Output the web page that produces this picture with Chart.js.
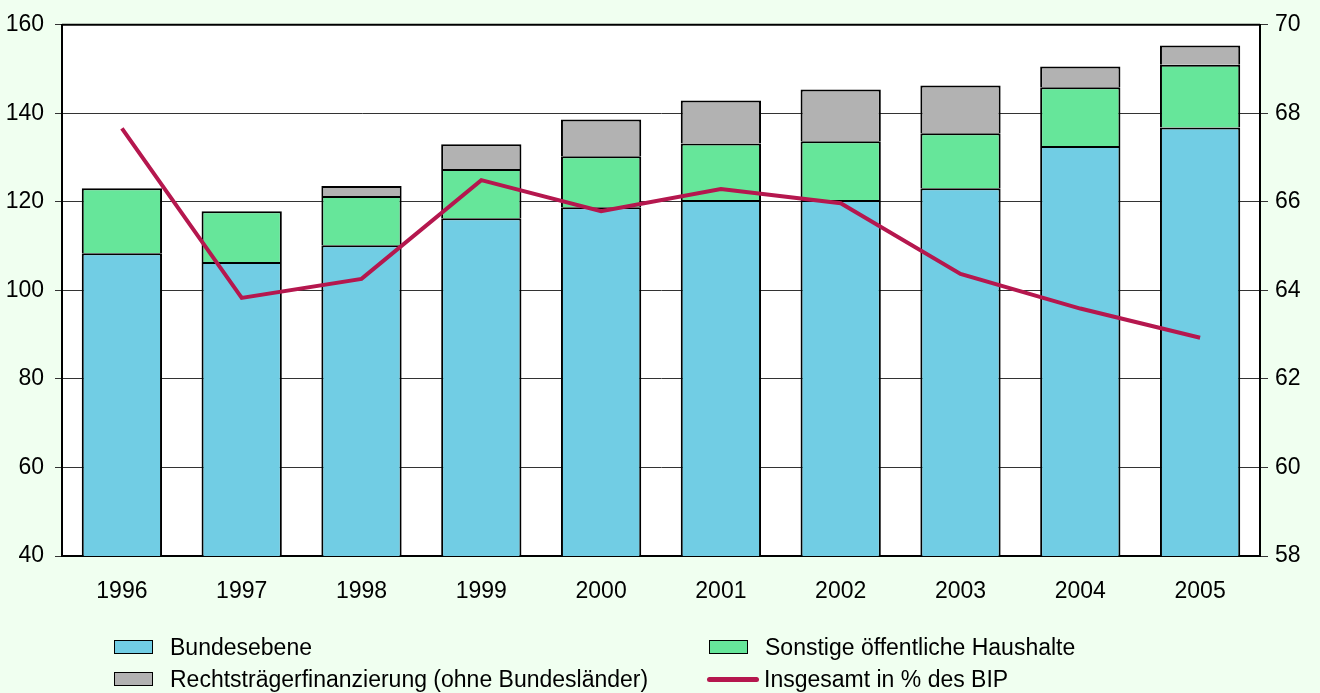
<!DOCTYPE html>
<html>
<head>
<meta charset="utf-8">
<script src="https://cdn.jsdelivr.net/npm/chart.js@4"></script>
<style>
    body { margin: 0; background: #f0fff0; font-family: "Liberation Sans", Arial, sans-serif; }
    #wrap { position: relative; width: 1320px; height: 693px; }
    #legend { position: absolute; left: 114px; top: 634px; display: grid; grid-template-columns: 595px 420px; row-gap: 6px; }
    .item { display: flex; align-items: center; font-size: 23px; color: #000; height: 26px; }
    .box { width: 37px; height: 12px; border: 1.5px solid #000; margin-right: 17px; }
    .line { width: 52px; height: 5px; border-radius: 3px; margin-right: 5px; margin-left: -2px; }
</style>
</head>
<body>
<div id="wrap">
    <canvas id="chart" width="1320" height="693"></canvas>
    <div id="legend"></div>
</div>
<script>
const years = ['1996', '1997', '1998', '1999', '2000', '2001', '2002', '2003', '2004', '2005'];
const bundesebene = [108.4, 106.4, 110.2, 116.3, 118.8, 120.4, 120.4, 123.1, 132.6, 136.8];
const sonstige = [14.7, 11.5, 11.1, 11.1, 11.5, 12.8, 13.3, 12.4, 13.3, 14.2];
const rechtstraeger = [0, 0, 2.3, 5.6, 8.3, 9.7, 11.7, 10.8, 4.7, 4.3];
const bipPercent = [67.66, 63.83, 64.26, 66.49, 65.79, 66.29, 65.97, 64.37, 63.59, 62.93];
const leftTicks = [40, 60, 80, 100, 120, 140, 160];
const rightTicks = [58, 60, 62, 64, 66, 68, 70];

const font = { family: '"Liberation Sans", Arial, sans-serif', size: 23 };

// frame around plot area (top line drawn black like the axes)
const framePlugin = {
    id: 'frame',
    afterDraw(chart) {
        const { ctx, chartArea: a } = chart;
        ctx.save();
        ctx.strokeStyle = '#000';
        ctx.lineWidth = 2;
        ctx.beginPath();
        ctx.moveTo(a.left, a.top);
        ctx.lineTo(a.right, a.top);
        ctx.stroke();
        ctx.restore();
    }
};

const bgPlugin = {
    id: 'bg',
    beforeDraw(chart) {
        const { ctx, chartArea: a } = chart;
        ctx.save();
        ctx.fillStyle = '#ffffff';
        ctx.fillRect(a.left, a.top, a.right - a.left, a.bottom - a.top);
        ctx.restore();
    }
};

const chart = new Chart(document.getElementById('chart'), {
    data: {
        labels: years,
        datasets: [
            {
                type: 'line', label: 'Insgesamt in % des BIP', data: bipPercent, yAxisID: 'y2',
                borderColor: '#b5174e', borderWidth: 4, pointRadius: 0, tension: 0, order: 0
            },
            {
                type: 'bar', label: 'Bundesebene', data: bundesebene, yAxisID: 'y',
                backgroundColor: '#71cde4', borderColor: '#000', borderWidth: 2, order: 1
            },
            {
                type: 'bar', label: 'Sonstige öffentliche Haushalte', data: sonstige, yAxisID: 'y',
                backgroundColor: '#66e69a', borderColor: '#000', borderWidth: 2, order: 1
            },
            {
                type: 'bar', label: 'Rechtsträgerfinanzierung (ohne Bundesländer)', data: rechtstraeger, yAxisID: 'y',
                backgroundColor: '#b2b2b2', borderColor: '#000', borderWidth: 2, order: 1
            }
        ]
    },
    options: {
        responsive: false,
        animation: false,
        layout: { padding: { top: 16, bottom: 0, left: 0, right: 0 } },
        datasets: { bar: { barPercentage: 0.67, categoryPercentage: 1 } },
        plugins: { legend: { display: false }, tooltip: { enabled: false } },
        scales: {
            x: {
                stacked: true,
                grid: { display: false },
                border: { color: '#000', width: 2 },
                ticks: { color: '#000', font: font, padding: 14 },
                afterFit(s) { s.height = 137; }
            },
            y: {
                stacked: true, position: 'left', min: 40, max: 160,
                afterBuildTicks(s) { s.ticks = leftTicks.map(v => ({ value: v })); },
                grid: { color: '#333', lineWidth: 1, tickLength: 7 },
                border: { color: '#000', width: 2 },
                ticks: { color: '#000', font: font, padding: 11 },
                afterFit(s) { s.width = 62; }
            },
            y2: {
                position: 'right', min: 58, max: 70,
                afterBuildTicks(s) { s.ticks = rightTicks.map(v => ({ value: v })); },
                grid: { drawOnChartArea: false, color: '#333', tickLength: 8 },
                border: { color: '#000', width: 2 },
                ticks: { color: '#000', font: font, padding: 7 },
                afterFit(s) { s.width = 60; }
            }
        }
    },
    plugins: [bgPlugin, framePlugin]
});

// legend in two columns, same order as the original
const legendOrder = [1, 2, 3, 0];
const legend = document.getElementById('legend');
legendOrder.forEach(i => {
    const ds = chart.data.datasets[i];
    const item = document.createElement('div');
    item.className = 'item';
    const mark = document.createElement('span');
    if (ds.type === 'line') {
        mark.className = 'line';
        mark.style.background = ds.borderColor;
    } else {
        mark.className = 'box';
        mark.style.background = ds.backgroundColor;
    }
    item.appendChild(mark);
    item.appendChild(document.createTextNode(ds.label));
    legend.appendChild(item);
});
</script>
</body>
</html>
